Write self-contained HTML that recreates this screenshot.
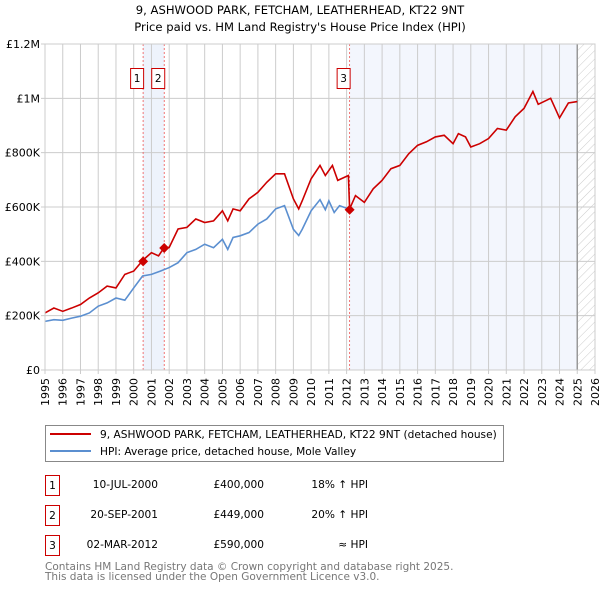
<!DOCTYPE html>
<html><head><meta charset="utf-8"><style>
body{margin:0;background:#fff;width:600px;height:590px;overflow:hidden}
svg{display:block;font-family:"DejaVu Sans","Liberation Sans",sans-serif}
</style></head><body>
<svg id="chart" width="600" height="590" viewBox="0 0 600 590">
<defs><pattern id="hatch" width="6" height="6" patternUnits="userSpaceOnUse" patternTransform="rotate(45)"><line x1="0" y1="0" x2="0" y2="6" stroke="#ccc" stroke-width="1"/></pattern></defs>
<text x="300" y="14" text-anchor="middle" font-size="11.6">9, ASHWOOD PARK, FETCHAM, LEATHERHEAD, KT22 9NT</text>
<text x="300" y="31" text-anchor="middle" font-size="11.6">Price paid vs. HM Land Registry's House Price Index (HPI)</text>
<g id="plot"></g>
<g>
<rect x="45.5" y="425.5" width="458" height="36" fill="#fff" stroke="#888"/>
<line x1="50" y1="434" x2="91" y2="434" stroke="#cc0000" stroke-width="2"/>
<text x="100" y="438" font-size="10.6">9, ASHWOOD PARK, FETCHAM, LEATHERHEAD, KT22 9NT (detached house)</text>
<line x1="50" y1="451" x2="91" y2="451" stroke="#5b8fd0" stroke-width="2"/>
<text x="100" y="455" font-size="10.6">HPI: Average price, detached house, Mole Valley</text>
</g>
<g font-size="10.6">
<rect x="45.5" y="475.5" width="14" height="20" fill="#fff" stroke="#cc0000"/><text x="52.5" y="489" text-anchor="middle">1</text>
<text x="158" y="488" text-anchor="end">10-JUL-2000</text><text x="264" y="488" text-anchor="end">£400,000</text><text x="368" y="488" text-anchor="end">18% ↑ HPI</text>
<rect x="45.5" y="505.5" width="14" height="20" fill="#fff" stroke="#cc0000"/><text x="52.5" y="519" text-anchor="middle">2</text>
<text x="158" y="518" text-anchor="end">20-SEP-2001</text><text x="264" y="518" text-anchor="end">£449,000</text><text x="368" y="518" text-anchor="end">20% ↑ HPI</text>
<rect x="45.5" y="535.5" width="14" height="20" fill="#fff" stroke="#cc0000"/><text x="52.5" y="549" text-anchor="middle">3</text>
<text x="158" y="548" text-anchor="end">02-MAR-2012</text><text x="264" y="548" text-anchor="end">£590,000</text><text x="368" y="548" text-anchor="end">≈ HPI</text>
</g>
<text x="45" y="570" font-size="10.5" fill="#777">Contains HM Land Registry data © Crown copyright and database right 2025.</text>
<text x="45" y="580" font-size="10.5" fill="#777">This data is licensed under the Open Government Licence v3.0.</text>
</svg>
<script>
const hpiYears=[1995,1995.5,1996,1996.5,1997,1997.5,1998,1998.5,1999,1999.5,2000,2000.5,2001,2001.5,2002,2002.5,2003,2003.5,2004,2004.5,2005,2005.3,2005.6,2006,2006.5,2007,2007.5,2008,2008.5,2009,2009.3,2009.5,2010,2010.5,2010.8,2011,2011.3,2011.6,2012.1];
const hpiValues=[179,185,183,191,198,210,235,247,265,257,302,346,352,364,377,395,432,444,463,450,481,444,488,494,506,537,556,593,605,518,495,518,586,627,590,623,580,605,593];
const priceYears=[1995,1995.5,1996,1996.5,1997,1997.5,1998,1998.5,1999,1999.5,2000,2000.53,2001,2001.4,2001.72,2002,2002.5,2003,2003.5,2004,2004.5,2005,2005.3,2005.6,2006,2006.5,2007,2007.5,2008,2008.5,2009,2009.3,2009.5,2010,2010.5,2010.8,2011.2,2011.5,2012.1,2012.17,2012.5,2013,2013.5,2014,2014.5,2015,2015.5,2016,2016.5,2017,2017.5,2018,2018.3,2018.7,2019,2019.5,2020,2020.5,2021,2021.5,2022,2022.5,2022.8,2023.5,2024,2024.5,2025];
const priceValues=[210,228,216,228,241,265,284,309,302,352,364,405,432,420,451,451,519,525,556,543,549,586,549,593,586,630,654,691,722,722,630,593,623,704,753,716,753,698,716,593,642,617,667,698,741,753,796,827,840,858,864,833,870,858,821,833,852,889,883,932,963,1025,978,1000,928,983,988];
const saleYears=[2000.53,2001.72,2012.17];
const saleValues=[400,449,590];
const saleLabels=["1","2","3"];
const yTicks=[0,200,400,600,800,1000,1200];
const yTickLabels=["£0","£200K","£400K","£600K","£800K","£1M","£1.2M"];
const xTicks=[1995,1996,1997,1998,1999,2000,2001,2002,2003,2004,2005,2006,2007,2008,2009,2010,2011,2012,2013,2014,2015,2016,2017,2018,2019,2020,2021,2022,2023,2024,2025,2026];

const X0=45,X1=595,Y0=370,Y1=44;
const xs=y=>X0+(y-1995)/(2026-1995)*(X1-X0);
const ys=v=>Y0-v/1200*(Y0-Y1);
const NS="http://www.w3.org/2000/svg";
const g=document.getElementById('plot');
function mk(tag,attrs,parent){const e=document.createElementNS(NS,tag);for(const k in attrs)e.setAttribute(k,attrs[k]);(parent||g).appendChild(e);return e;}

const bg=mk('rect',{x:X0,y:Y1,width:X1-X0,height:Y0-Y1,fill:'#fff'});


const sh1=mk('rect',{x:xs(saleYears[0]),y:Y1,width:xs(saleYears[1])-xs(saleYears[0]),height:Y0-Y1,fill:'#eef3fc'});


const sh2=mk('rect',{x:xs(saleYears[2]),y:Y1,width:xs(2025)-xs(saleYears[2]),height:Y0-Y1,fill:'#f3f6fd'});


const ht=mk('rect',{x:xs(2025),y:Y1,width:X1-xs(2025),height:Y0-Y1,fill:'url(#hatch)'});



xTicks.forEach(t=>{
  const l=mk('line',{x1:xs(t),x2:xs(t),y1:Y1,y2:Y0+4,stroke:'#ccc'});
  
  
  const tx=mk('text',{x:0,y:0,'font-size':'11','text-anchor':'end',transform:`translate(${xs(t)+4},${Y0+8}) rotate(-90)`});
  tx.textContent=t;
  
  
});
yTicks.forEach((t,i)=>{
  const l=mk('line',{x1:X0-4,x2:X1,y1:ys(t),y2:ys(t),stroke:'#ccc'});
  
  
  const tx=mk('text',{x:X0-5,y:ys(t)+4,'font-size':'11','text-anchor':'end'});
  tx.textContent=yTickLabels[i];
  
  
});
const nowL=mk('line',{x1:xs(2025),x2:xs(2025),y1:Y1,y2:Y0,stroke:'#999','stroke-width':1.5});



saleYears.forEach((yr,i)=>{
  const l=mk('line',{x1:xs(yr),x2:xs(yr),y1:Y1,y2:Y0,stroke:'#e55','stroke-dasharray':'2,2','stroke-width':0.8});
  
  
  const bx=mk('rect',{x:xs(yr)-12.5,y:68.5,width:13,height:20,fill:'#fff',stroke:'#cc0000'});
  
  
  const t=mk('text',{x:xs(yr)-6,y:82,'font-size':'10.5','text-anchor':'middle'});
  t.textContent=saleLabels[i];
  
  
});

const hp=mk('polyline',{points:hpiYears.map((y,i)=>xs(y)+','+ys(hpiValues[i])).join(' '),fill:'none',stroke:'#5b8fd0','stroke-width':1.6});


const pp=mk('polyline',{points:priceYears.map((y,i)=>xs(y)+','+ys(priceValues[i])).join(' '),fill:'none',stroke:'#cc0000','stroke-width':1.6});



saleYears.forEach((yr,i)=>{
  const cx=xs(yr),cy=ys(saleValues[i]);
  const d=mk('polygon',{points:`${cx},${cy-5} ${cx+5},${cy} ${cx},${cy+5} ${cx-5},${cy}`,fill:'#cc0000'});
  
  
});
const border=mk('rect',{x:X0,y:Y1,width:X1-X0,height:Y0-Y1,fill:'none',stroke:'#ccc'});


</script>
</body></html>
